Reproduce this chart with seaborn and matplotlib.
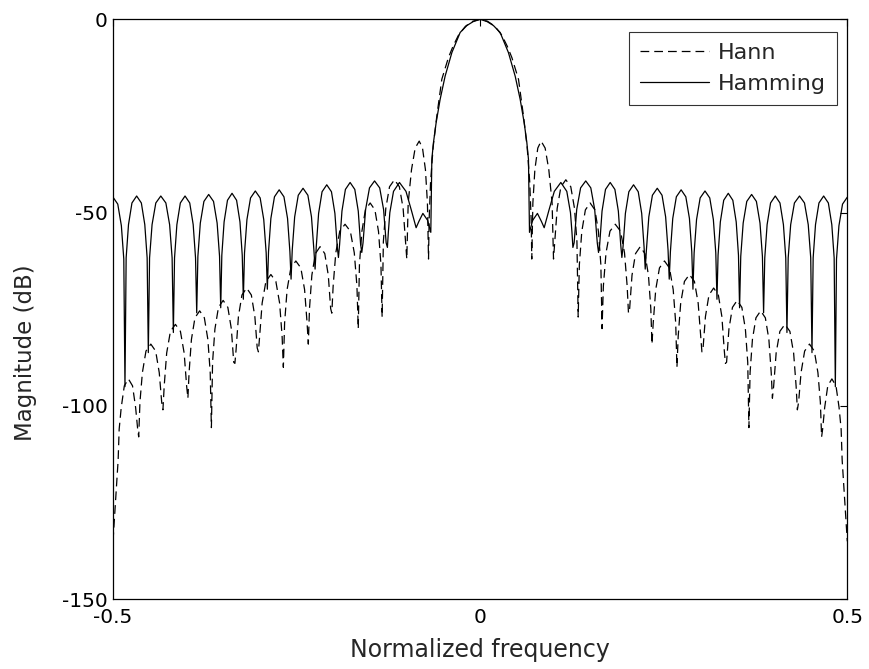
import matplotlib
matplotlib.use("Agg")
import matplotlib.pyplot as plt
import numpy as np
import pandas as pd
import seaborn as sns

# ---- data (positive-frequency half; spectrum is symmetric) ----
hamming_freq = [0.0000, 0.0095, 0.0180, 0.0272, 0.0385, 0.0477, 0.0545, 0.0599, 0.0636, 0.0658, 0.0672,
                0.0715, 0.0780, 0.0835, 0.0872, 0.0935, 0.1010, 0.1099, 0.1180, 0.1230, 0.1250, 0.1263,
                0.1280, 0.1315, 0.1368, 0.1438, 0.1507, 0.1560, 0.1595, 0.1612,
                0.1628, 0.1660, 0.1707, 0.1771, 0.1835, 0.1882, 0.1914, 0.1930,
                0.1946, 0.1978, 0.2025, 0.2089, 0.2153, 0.2200, 0.2232, 0.2248,
                0.2264, 0.2297, 0.2346, 0.2412, 0.2477, 0.2526, 0.2559, 0.2575,
                0.2591, 0.2623, 0.2672, 0.2737, 0.2801, 0.2850, 0.2882, 0.2898,
                0.2914, 0.2947, 0.2996, 0.3062, 0.3127, 0.3176, 0.3209, 0.3225,
                0.3240, 0.3271, 0.3317, 0.3379, 0.3441, 0.3487, 0.3518, 0.3533,
                0.3549, 0.3582, 0.3631, 0.3697, 0.3762, 0.3811, 0.3844, 0.3860,
                0.3876, 0.3908, 0.3955, 0.4019, 0.4083, 0.4130, 0.4162, 0.4178,
                0.4195, 0.4229, 0.4280, 0.4349, 0.4417, 0.4468, 0.4502, 0.4519,
                0.4535, 0.4567, 0.4614, 0.4678, 0.4742, 0.4789, 0.4821, 0.4837,
                0.4853, 0.4886, 0.4935, 0.5000]
hamming_db = [0.0, -0.6, -1.6, -3.4, -8.6, -14.7, -20.7, -26.7, -31.9, -36.2, -55.1,
              -52.0, -50.2, -52.3, -53.9, -49.5, -44.5, -42.2, -44.5, -50.0, -55.0, -59.0,
              -57.8, -49.2, -43.6, -41.8, -43.6, -49.2, -57.8, -60.3,
              -58.2, -49.6, -44.0, -42.2, -44.0, -49.6, -58.2, -61.6,
              -58.8, -50.2, -44.6, -42.8, -44.6, -50.2, -58.8, -64.6,
              -59.7, -51.1, -45.5, -43.7, -45.5, -51.1, -59.7, -67.2,
              -60.1, -51.5, -45.9, -44.1, -45.9, -51.5, -60.1, -69.8,
              -60.4, -51.8, -46.2, -44.4, -46.2, -51.8, -60.4, -72.4,
              -61.0, -52.4, -46.8, -45.0, -46.8, -52.4, -61.0, -74.6,
              -61.3, -52.7, -47.1, -45.3, -47.1, -52.7, -61.3, -75.9,
              -61.7, -53.1, -47.5, -45.7, -47.5, -53.1, -61.7, -81.0,
              -61.7, -53.1, -47.5, -45.7, -47.5, -53.1, -61.7, -86.2,
              -61.7, -53.1, -47.5, -45.7, -47.5, -53.1, -61.7, -95.0,
              -62.0, -53.4, -47.8, -46.0]

hann_freq = [0.0000, 0.0100, 0.0200, 0.0295, 0.0370, 0.0432, 0.0522, 0.0590, 0.0640, 0.0675, 0.0695, 0.0703,
             0.0718, 0.0745, 0.0785, 0.0830, 0.0885, 0.0935, 0.0980, 0.0999,
             0.1016, 0.1049, 0.1100, 0.1167, 0.1234, 0.1285, 0.1318, 0.1335,
             0.1351, 0.1384, 0.1433, 0.1498, 0.1563, 0.1611, 0.1644, 0.1660,
             0.1678, 0.1714, 0.1768, 0.1840, 0.1912, 0.1966, 0.2002, 0.2020,
             0.2036, 0.2068, 0.2116, 0.2180, 0.2244, 0.2292, 0.2324, 0.2340,
             0.2357, 0.2391, 0.2442, 0.2510, 0.2578, 0.2629, 0.2663, 0.2680,
             0.2697, 0.2731, 0.2782, 0.2850, 0.2918, 0.2969, 0.3003, 0.3020,
             0.3036, 0.3068, 0.3116, 0.3180, 0.3244, 0.3292, 0.3324, 0.3340,
             0.3356, 0.3388, 0.3436, 0.3500, 0.3564, 0.3612, 0.3644, 0.3660,
             0.3676, 0.3708, 0.3756, 0.3820, 0.3884, 0.3932, 0.3964, 0.3980,
             0.3997, 0.4031, 0.4082, 0.4150, 0.4218, 0.4269, 0.4303, 0.4320,
             0.4337, 0.4370, 0.4419, 0.4485, 0.4551, 0.4600, 0.4633, 0.4650,
             0.4664, 0.4692, 0.4734, 0.4790, 0.4846, 0.4888, 0.4916, 0.4930,
             0.5000]
hann_db = [0.0, -0.5, -1.8, -4.1, -7.0, -9.9, -15.5, -25.0, -33.0, -42.0, -52.0, -62.0,
           -47.5, -38.9, -33.3, -31.5, -33.3, -38.9, -47.5, -62.0,
           -57.5, -48.9, -43.3, -41.5, -43.3, -48.9, -57.5, -77.0,
           -63.5, -54.9, -49.3, -47.5, -49.3, -54.9, -63.5, -80.0,
           -69.0, -60.4, -54.8, -53.0, -54.8, -60.4, -69.0, -76.0,
           -74.8, -66.2, -60.6, -58.8, -60.6, -66.2, -74.8, -84.0,
           -78.5, -69.9, -64.3, -62.5, -64.3, -69.9, -78.5, -90.0,
           -82.0, -73.4, -67.8, -66.0, -67.8, -73.4, -82.0, -86.0,
           -85.0, -76.9, -71.3, -69.5, -71.3, -76.9, -85.5, -89.0,
           -88.7, -80.1, -74.5, -72.7, -74.5, -80.1, -88.7, -105.6,
           -91.4, -82.8, -77.2, -75.4, -77.2, -82.8, -91.4, -98.0,
           -94.9, -86.3, -80.7, -78.9, -80.7, -86.3, -94.9, -101.0,
           -99.0, -91.4, -85.8, -84.0, -85.8, -91.4, -99.0, -108.0,
           -106.0, -100.4, -94.8, -93.0, -94.8, -100.4, -106.0, -114.0,
           -135.0]

x_ticks = [-0.5, 0, 0.5]
x_ticklabels = ["-0.5", "0", "0.5"]
y_ticks = [-150, -100, -50, 0]
y_ticklabels = ["-150", "-100", "-50", "0"]


def full_spectrum(freq, db):
    f = [-v for v in reversed(freq[1:])] + list(freq)
    d = list(reversed(db[1:])) + list(db)
    return pd.DataFrame({"freq": f, "db": d})


df_hann = full_spectrum(hann_freq, hann_db)
df_hamming = full_spectrum(hamming_freq, hamming_db)

sns.set_style("white")
plt.rcParams["font.family"] = ["DejaVu Sans"]

fig = plt.figure(figsize=(8.7, 6.69), dpi=100)
ax = fig.add_axes([113 / 870, 1 - 599.3 / 669, 734.3 / 870, 580 / 669])

sns.lineplot(data=df_hann, x="freq", y="db", sort=False, estimator=None, ax=ax,
             color="black", linewidth=0.9, linestyle=(0, (7, 4)), label="Hann")
sns.lineplot(data=df_hamming, x="freq", y="db", sort=False, estimator=None, ax=ax,
             color="black", linewidth=0.9, label="Hamming")

ax.set_xlim(-0.5, 0.5)
ax.set_ylim(-150, 0)
ax.set_xticks(x_ticks)
ax.set_xticklabels(x_ticklabels)
ax.set_yticks(y_ticks)
ax.set_yticklabels(y_ticklabels)
ax.tick_params(direction="in", length=5, width=0.8, labelsize=14.5, top=True, right=True,
               colors="black")
ax.tick_params(axis="x", pad=6)
ax.tick_params(axis="y", pad=4)
for s in ax.spines.values():
    s.set_color("black")
    s.set_linewidth(0.9)
ax.set_xlabel("Normalized frequency", fontsize=17)
ax.set_ylabel("Magnitude (dB)", fontsize=16.5)
ax.xaxis.set_label_coords(0.5, -0.0667)
ax.yaxis.set_label_coords(-0.1035, 0.426)

leg = ax.legend(loc="upper right", fontsize=16, frameon=True, fancybox=False,
                handlelength=3.1, bbox_to_anchor=(1 - 10 / 734.3, 1 - 12.5 / 580),
                borderaxespad=0.0, borderpad=0.5, labelspacing=0.5,
                handletextpad=0.4)
leg.get_frame().set_edgecolor("black")
leg.get_frame().set_linewidth(0.8)

fig.savefig("out.png", dpi=100)
